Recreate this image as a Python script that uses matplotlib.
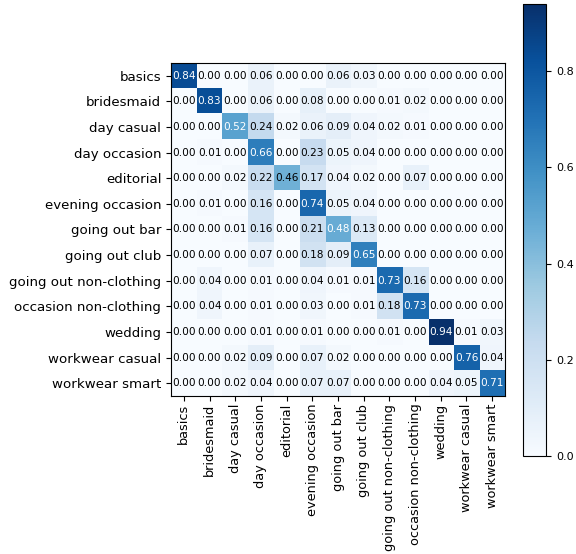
import numpy as np
import matplotlib
matplotlib.use('Agg')
import matplotlib.pyplot as plt

classes = ['basics', 'bridesmaid', 'day casual', 'day occasion', 'editorial',
           'evening occasion', 'going out bar', 'going out club',
           'going out non-clothing', 'occasion non-clothing', 'wedding',
           'workwear casual', 'workwear smart']

# normalised confusion matrix, rows = true label, cols = predicted
row_basics      = [0.84, 0.00, 0.00, 0.06, 0.00, 0.00, 0.06, 0.03, 0.00, 0.00, 0.00, 0.00, 0.00]
row_bridesmaid  = [0.00, 0.83, 0.00, 0.06, 0.00, 0.08, 0.00, 0.00, 0.01, 0.02, 0.00, 0.00, 0.00]
row_daycasual   = [0.00, 0.00, 0.52, 0.24, 0.02, 0.06, 0.09, 0.04, 0.02, 0.01, 0.00, 0.00, 0.00]
row_dayocc      = [0.00, 0.01, 0.00, 0.66, 0.00, 0.23, 0.05, 0.04, 0.00, 0.00, 0.00, 0.00, 0.00]
row_editorial   = [0.00, 0.00, 0.02, 0.22, 0.46, 0.17, 0.04, 0.02, 0.00, 0.07, 0.00, 0.00, 0.00]
row_eveningocc  = [0.00, 0.01, 0.00, 0.16, 0.00, 0.74, 0.05, 0.04, 0.00, 0.00, 0.00, 0.00, 0.00]
row_outbar      = [0.00, 0.00, 0.01, 0.16, 0.00, 0.21, 0.48, 0.13, 0.00, 0.00, 0.00, 0.00, 0.00]
row_outclub     = [0.00, 0.00, 0.00, 0.07, 0.00, 0.18, 0.09, 0.65, 0.00, 0.00, 0.00, 0.00, 0.00]
row_outnoncloth = [0.00, 0.04, 0.00, 0.01, 0.00, 0.04, 0.01, 0.01, 0.73, 0.16, 0.00, 0.00, 0.00]
row_occnoncloth = [0.00, 0.04, 0.00, 0.01, 0.00, 0.03, 0.00, 0.01, 0.18, 0.73, 0.00, 0.00, 0.00]
row_wedding     = [0.00, 0.00, 0.00, 0.01, 0.00, 0.01, 0.00, 0.00, 0.01, 0.00, 0.94, 0.01, 0.03]
row_workcasual  = [0.00, 0.00, 0.02, 0.09, 0.00, 0.07, 0.02, 0.00, 0.00, 0.00, 0.00, 0.76, 0.04]
row_worksmart   = [0.00, 0.00, 0.02, 0.04, 0.00, 0.07, 0.07, 0.00, 0.00, 0.00, 0.04, 0.05, 0.71]

cm = np.array([row_basics, row_bridesmaid, row_daycasual, row_dayocc,
               row_editorial, row_eveningocc, row_outbar, row_outclub,
               row_outnoncloth, row_occnoncloth, row_wedding,
               row_workcasual, row_worksmart])

fig = plt.figure(figsize=(5.76, 5.54), dpi=100)
ax = fig.add_axes([0.2969, 0.2852, 0.5799, 0.6011])
cax = fig.add_axes([0.908, 0.1769, 0.040, 0.816])

im = ax.imshow(cm, interpolation='nearest', cmap=plt.cm.Blues, aspect='auto')
cb = fig.colorbar(im, cax=cax)
cb.ax.tick_params(labelsize=8)

tick_marks = np.arange(len(classes))
ax.set_xticks(tick_marks)
ax.set_xticklabels(classes, rotation=90, fontsize=9.3)
ax.set_yticks(tick_marks)
ax.set_yticklabels(classes, fontsize=9.6)
ax.tick_params(axis='x', pad=2)

thresh = cm.max() / 2.
for i in range(cm.shape[0]):
    for j in range(cm.shape[1]):
        ax.text(j, i, format(cm[i, j], '.2f'),
                ha='center', va='center', fontsize=7.6,
                color='white' if cm[i, j] > thresh else 'black')

fig.savefig('out.png', dpi=100)
